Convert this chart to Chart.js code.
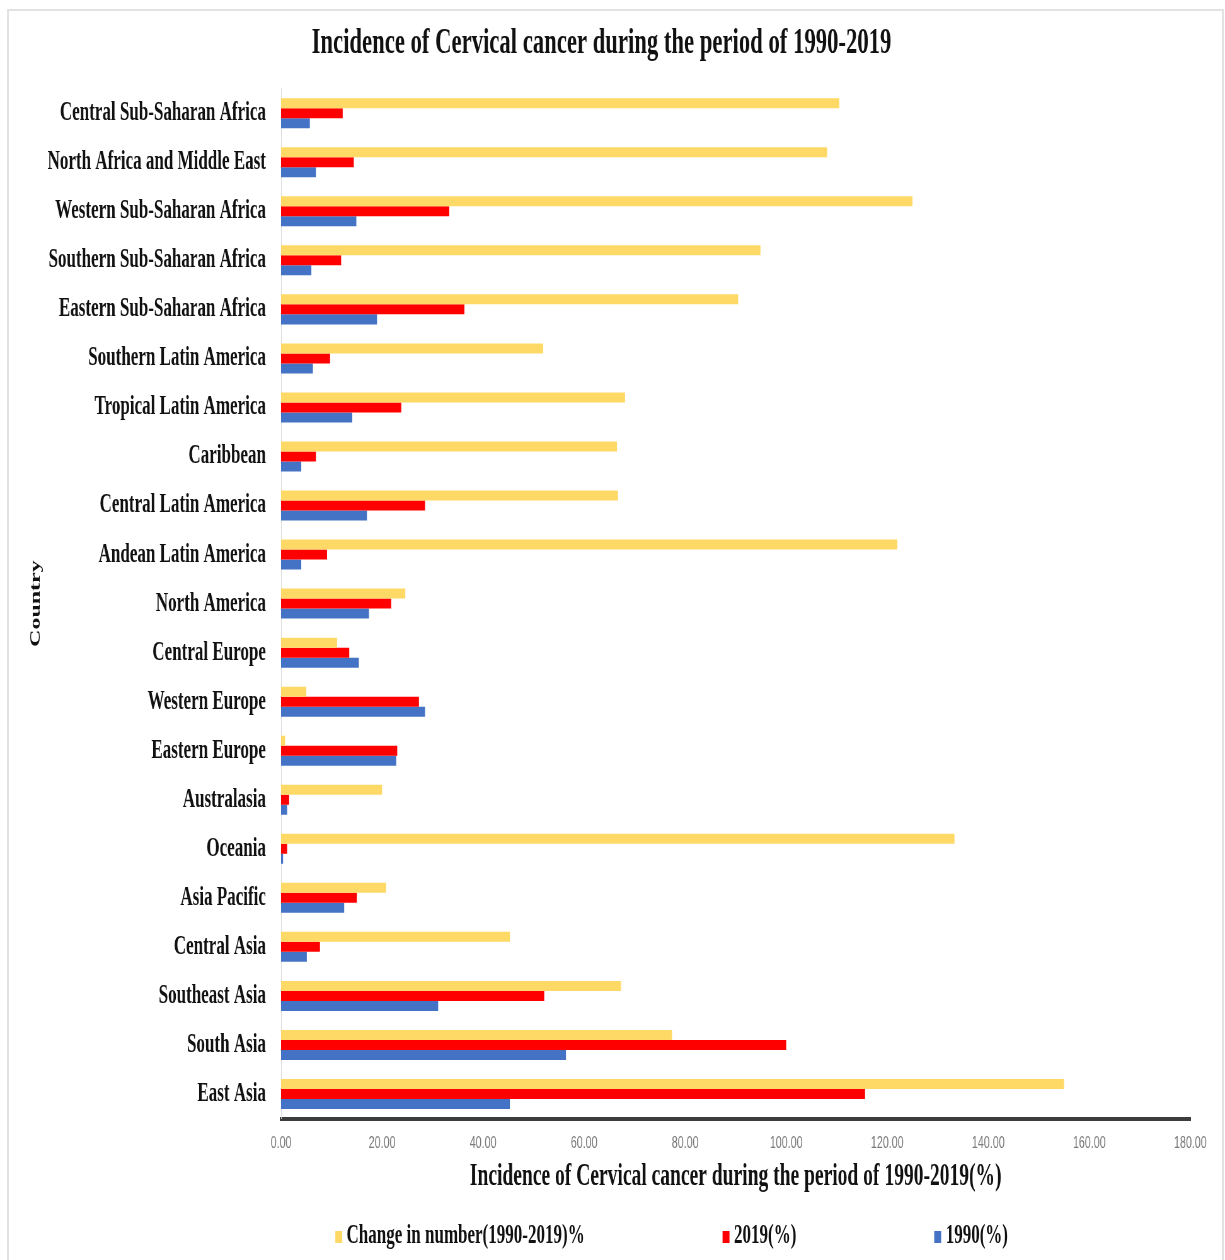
<!DOCTYPE html>
<html lang="en">
<head>
<meta charset="UTF-8">
<title>Incidence of Cervical cancer during the period of 1990-2019</title>
<script src="https://cdn.jsdelivr.net/npm/chart.js"></script>
<style>
  body {
    margin: 0;
    background: #fff;
    width: 1225px;
    height: 1260px;
    overflow: hidden;
    position: relative;
    font-family: 'Liberation Serif', 'Times New Roman', serif;
  }
  .frame {
    position: absolute;
    left: 7px;
    top: 9px;
    width: 1213px;
    height: 1300px;
    border: 2px solid #e2e2e2;
    border-bottom: none;
  }
  #chart { position: absolute; left: 0; top: 0; }
  /* the original picture is squashed sideways, so the legend is too */
  .legend {
    position: absolute;
    left: 0;
    top: 1218px;
    width: 1944px;
    height: 32px;
    padding-left: 532px;
    box-sizing: border-box;
    transform: scaleX(0.63);
    transform-origin: 0 0;
    display: flex;
    align-items: center;
  }
  .legend .item {
    display: flex;
    align-items: center;
    margin-right: 219px;
    font-weight: bold;
    font-size: 27px;
    color: #111;
  }
  .legend .box { width: 11px; height: 12px; margin-right: 7px; margin-top: 6px; }
</style>
</head>
<body>
<div class="frame"></div>
<!-- drawn 1944 wide, shown 1225 wide: gives the condensed look of the original -->
<canvas id="chart" width="1944" height="1260" style="width:1225px;height:1260px"></canvas>
<div class="legend" id="legend"></div>

<script>
const categories = [
  'Central Sub-Saharan Africa', 'North Africa and Middle East', 'Western Sub-Saharan Africa',
  'Southern Sub-Saharan Africa', 'Eastern Sub-Saharan Africa', 'Southern Latin America',
  'Tropical Latin America', 'Caribbean', 'Central Latin America', 'Andean Latin America',
  'North America', 'Central Europe', 'Western Europe', 'Eastern Europe', 'Australasia',
  'Oceania', 'Asia Pacific', 'Central Asia', 'Southeast Asia', 'South Asia', 'East Asia'
];
const changePct = [110.5, 108.1, 125.0, 94.9, 90.5, 51.9, 68.1, 66.5, 66.7, 122.0,
                   24.6, 11.1, 5.0, 0.8, 20.0, 133.3, 20.8, 45.3, 67.3, 77.4, 155.0];
const pct2019 = [12.2, 14.4, 33.3, 11.9, 36.3, 9.7, 23.8, 6.9, 28.5, 9.1,
                 21.8, 13.5, 27.3, 23.0, 1.6, 1.2, 15.0, 7.7, 52.1, 100.0, 115.6];
const pct1990 = [5.7, 6.9, 14.9, 6.0, 19.0, 6.3, 14.1, 4.0, 17.0, 4.0,
                 17.4, 15.4, 28.5, 22.8, 1.2, 0.4, 12.5, 5.1, 31.1, 56.4, 45.3];
const seriesNames = ['Change in number(1990-2019)%', '2019(%)', '1990(%)'];
const xMin = 0, xMax = 180, xStep = 20;

const colors = ['#FFD966', '#FF0000', '#4472C4'];
const serif = "'Liberation Serif', 'Times New Roman', serif";

const chart = new Chart(document.getElementById('chart'), {
  type: 'bar',
  data: {
    labels: categories,
    datasets: [changePct, pct2019, pct1990].map((d, i) => ({
      label: seriesNames[i],
      data: d,
      backgroundColor: colors[i],
      borderWidth: 0,
      categoryPercentage: 0.612,
      barPercentage: 1
    }))
  },
  options: {
    indexAxis: 'y',
    responsive: false,
    devicePixelRatio: 1,
    animation: false,
    layout: { padding: { left: 20, right: 55, top: 0, bottom: 60.5 } },
    plugins: {
      legend: { display: false },
      tooltip: { enabled: false },
      title: {
        display: true,
        text: 'Incidence of Cervical cancer during the period of 1990-2019',
        color: '#111',
        font: { family: serif, size: 36, weight: 'bold' },
        padding: { top: 22, bottom: 23.5 }
      }
    },
    scales: {
      x: {
        min: xMin,
        max: xMax,
        grid: { display: false, drawTicks: false },
        border: { display: true, color: '#3c3c3c', width: 4 },
        ticks: {
          stepSize: xStep,
          padding: 15,
          maxRotation: 0,
          autoSkip: false,
          color: '#7a7a7a',
          font: { family: "'Liberation Sans', Arial, sans-serif", size: 17 },
          callback: v => Number(v).toFixed(2)
        },
        title: {
          display: true,
          text: 'Incidence of Cervical cancer during the period of 1990-2019(%)',
          color: '#111',
          font: { family: serif, size: 31, weight: 'bold' },
          padding: { top: 6, bottom: 4 }
        },
        afterFit: s => { s.height = 81; }
      },
      y: {
        grid: { display: false, drawTicks: false },
        border: { display: true, color: '#d9d9d9', width: 1 },
        ticks: {
          padding: 24,
          autoSkip: false,
          color: '#111',
          font: { family: serif, size: 27, weight: 'bold' }
        },
        title: {
          display: true,
          text: 'Country',
          color: '#111',
          font: { family: serif, size: 24, weight: 'bold' },
          padding: { top: 22, bottom: 0 }
        },
        afterFit: s => { s.width = 426; }
      }
    }
  }
});

// legend as html, built from the chart's datasets
const legend = document.getElementById('legend');
chart.data.datasets.forEach(ds => {
  const item = document.createElement('div');
  item.className = 'item';
  const box = document.createElement('span');
  box.className = 'box';
  box.style.background = ds.backgroundColor;
  item.appendChild(box);
  item.appendChild(document.createTextNode(ds.label));
  legend.appendChild(item);
});
</script>
</body>
</html>
